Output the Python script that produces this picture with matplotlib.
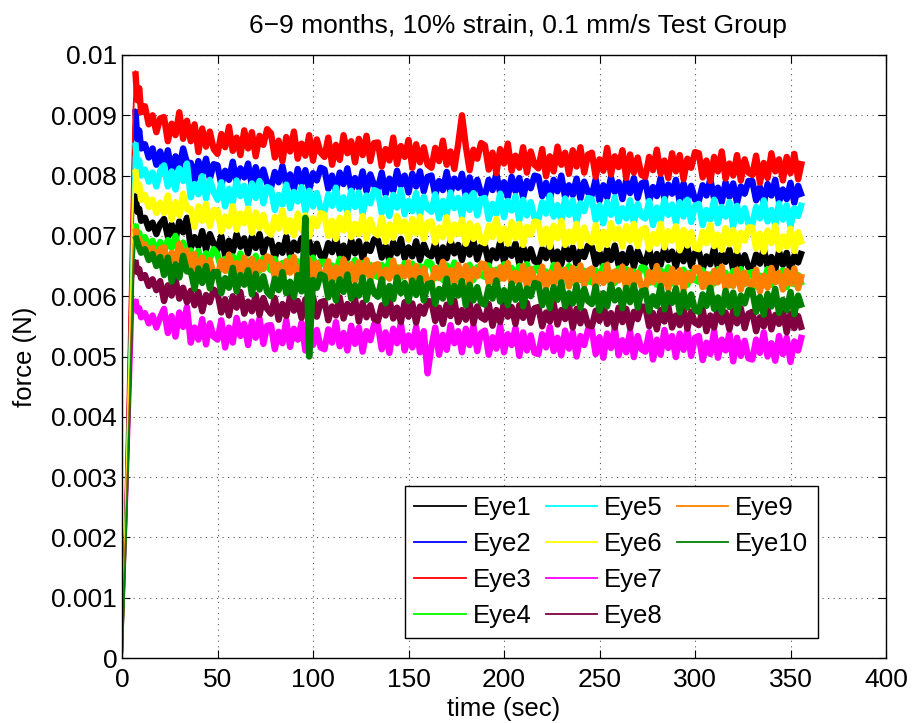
import numpy as np
import matplotlib
matplotlib.use("Agg")
import matplotlib.pyplot as plt
from matplotlib.lines import Line2D

plt.rcParams['font.family'] = ['Liberation Sans', 'DejaVu Sans']

# time samples (sec): loading ramp, then relaxation sampled every 2 s
t_early = [0, 1, 2, 3, 4, 5, 6, 7, 8, 9, 10, 12, 14, 16, 18, 20]
t_late = list(range(22, 357, 2))
time = np.array(t_early + t_late, dtype=float)

# force values in units of 1e-5 N
eye1 = [0,120,240,360,480,610,745,770,740,745,725,730,712,722,703,720,
        728,699,719,695,724,706,730,680,698,683,708,677,703,687,
        677,700,668,692,674,703,682,696,671,699,680,703,672,694,
        693,664,685,672,699,667,689,676,696,663,691,669,687,667,
        665,688,673,697,668,684,663,693,671,691,662,686,675,694,
        693,664,684,660,689,671,695,663,681,666,691,660,686,670,
        666,689,657,681,663,692,671,685,660,688,669,692,661,683,
        684,655,676,663,690,658,680,667,687,654,682,660,678,658,
        655,678,663,687,658,674,653,683,661,681,652,676,665,684,
        682,653,673,649,678,660,684,652,670,655,680,649,675,659,
        655,678,646,670,652,681,660,674,649,677,658,681,650,672,
        674,645,666,653,680,648,670,657,677,644,672,650,668,648,
        646,669,654,678,649,665,644,674,652,672,643,667,656,675]
eye2 = [0,140,280,420,570,720,880,910,860,875,845,852,830,845,818,840,
        816,842,806,832,812,845,821,821,793,824,803,828,795,819,
        817,785,808,793,823,788,812,797,820,783,814,790,810,787,
        780,806,789,816,784,802,778,811,787,809,777,804,792,813,
        810,778,800,773,805,786,812,776,796,780,807,774,802,784,
        779,805,769,795,775,808,784,800,772,803,782,807,774,798,
        800,768,791,776,806,771,795,780,803,766,797,773,793,770,
        767,793,776,803,771,789,765,798,774,796,764,791,779,800,
        798,766,788,761,793,774,800,764,784,768,795,762,790,772,
        768,794,758,784,764,797,773,789,761,792,771,796,763,787,
        790,758,781,766,796,761,785,770,793,756,787,763,783,760,
        758,784,767,794,762,780,756,789,765,787,755,782,770,791,
        791,759,781,754,786,767,793,757,777,761,788,755,783,765]
eye3 = [0,150,300,450,600,760,910,973,925,945,905,915,885,900,872,895,
        897,857,886,867,905,861,891,857,885,839,878,848,873,844,
        836,869,847,881,841,863,834,875,845,872,832,866,851,877,
        870,830,858,824,864,840,873,828,853,833,867,825,860,838,
        831,863,818,851,826,867,837,857,822,861,834,866,824,854,
        855,815,844,825,863,819,849,831,859,813,852,822,847,818,
        813,846,824,858,818,840,811,852,900,849,809,843,828,854,
        850,810,838,804,844,820,853,808,833,813,847,805,840,818,
        812,844,799,832,807,848,818,838,803,842,815,847,805,835,
        838,798,827,808,846,802,832,814,842,796,835,805,830,801,
        798,831,809,843,803,825,796,837,807,834,794,828,813,839,
        837,797,825,791,831,807,840,795,820,800,834,792,827,805,
        801,833,788,821,796,837,807,827,792,831,804,836,794,824]
eye4 = [0,110,220,335,450,570,695,720,700,705,690,698,680,692,672,690,
        673,693,680,700,676,689,672,676,658,675,651,671,662,678,
        669,645,662,642,666,651,671,644,659,647,667,642,663,650,
        643,662,635,655,640,664,646,658,637,661,645,664,639,657,
        657,633,651,639,662,636,654,643,660,632,655,637,652,635,
        632,652,639,659,635,648,631,655,637,654,630,650,641,657,
        654,630,647,627,651,636,656,629,644,632,652,627,648,635,
        632,651,624,644,629,653,635,647,626,650,634,653,628,646,
        647,623,641,629,652,626,644,633,650,622,645,627,642,625,
        623,643,630,650,626,639,622,646,628,645,621,641,632,648,
        646,622,639,619,643,628,648,621,636,624,644,619,640,627,
        624,643,616,636,621,645,627,639,618,642,626,645,620,638,
        640,616,634,622,645,619,637,626,643,615,638,620,635,618]
eye5 = [0,130,260,400,540,690,830,855,815,825,800,810,790,805,782,808,
        817,782,807,777,812,791,820,764,786,769,799,762,793,773,
        760,789,749,778,756,792,766,783,753,787,763,791,754,781,
        778,743,768,752,785,746,773,757,781,741,775,749,771,745,
        740,769,750,780,745,764,739,775,748,772,737,767,754,776,
        773,738,763,733,768,747,776,736,758,741,771,734,765,745,
        740,769,729,758,736,772,746,763,733,767,743,771,734,761,
        763,728,753,737,770,731,758,742,766,726,760,734,756,730,
        727,756,737,767,732,751,726,762,735,759,724,754,741,763,
        761,726,751,721,756,735,764,724,746,729,759,722,753,733,
        729,758,718,747,725,761,735,752,722,756,732,760,723,750,
        753,718,743,727,760,721,748,732,756,716,750,724,746,720,
        719,748,729,759,724,743,718,754,727,751,716,746,733,755]
eye6 = [0,125,250,380,510,650,790,810,775,785,760,768,748,760,738,755,
        738,767,727,756,734,770,744,745,715,749,725,753,716,743,
        742,707,732,716,749,710,737,721,745,705,739,713,735,709,
        702,731,712,742,707,726,701,737,710,734,699,729,716,738,
        735,700,725,695,730,709,738,698,720,703,733,696,727,707,
        701,730,690,719,697,733,707,724,694,728,704,732,695,722,
        724,689,714,698,731,692,719,703,727,687,721,695,717,691,
        688,717,698,728,693,712,687,723,696,720,685,715,702,724,
        722,687,712,682,717,696,725,685,707,690,720,683,714,694,
        689,718,678,707,685,721,695,712,682,716,692,720,683,710,
        713,678,703,687,720,681,708,692,716,676,710,684,706,680,
        678,707,688,718,683,702,677,713,686,710,675,705,692,714,
        714,679,704,674,709,688,717,677,699,682,712,675,706,686]
eye7 = [0,95,190,285,385,480,580,595,575,580,565,572,555,568,548,565,
        579,539,567,533,573,549,582,523,548,528,562,520,555,533,
        528,560,515,548,523,564,534,554,519,558,531,563,521,551,
        552,512,541,522,560,516,546,528,556,510,549,519,544,515,
        512,545,523,557,517,539,510,551,521,548,508,542,527,553,
        552,512,540,506,546,522,555,510,535,515,549,507,542,472,
        516,548,503,536,511,552,522,542,507,546,519,551,509,539,
        543,503,532,513,551,507,537,519,547,501,540,510,535,506,
        504,537,515,549,509,531,502,543,513,540,500,534,519,545,
        544,504,532,498,538,514,547,502,527,507,541,499,534,512,
        508,540,495,528,503,544,514,534,499,538,511,543,501,531,
        534,494,523,504,542,498,528,510,538,492,531,501,526,497,
        495,528,506,540,500,522,493,534,504,531,491,525,510,536]
eye8 = [0,100,200,305,410,520,630,660,640,645,630,635,617,628,610,625,
        592,618,601,628,596,614,590,609,585,607,575,602,590,611,
        605,573,595,568,600,581,607,571,591,575,602,569,597,579,
        571,597,561,587,567,600,576,592,564,595,574,599,566,590,
        592,560,583,568,598,563,587,572,595,558,589,565,585,562,
        559,585,568,595,563,581,557,590,566,588,556,583,571,592,
        591,559,581,554,586,567,593,557,577,561,588,555,583,565,
        561,587,551,577,557,590,566,582,554,585,564,589,556,580,
        582,550,573,558,588,553,577,562,585,548,579,555,575,552,
        550,576,559,586,554,572,548,581,557,579,547,574,562,583,
        582,550,572,545,577,558,584,548,568,552,579,546,574,556,
        552,578,542,568,548,581,557,573,545,576,555,580,547,571,
        574,542,565,550,580,545,569,554,577,540,571,547,567,544]
eye9 = [0,105,215,325,440,560,685,712,690,695,680,686,668,680,660,678,
        681,649,672,657,687,652,676,647,670,633,664,640,660,637,
        633,659,642,669,637,655,631,664,640,662,630,657,645,666,
        663,631,653,626,658,639,665,629,649,633,660,627,655,637,
        632,658,622,648,628,661,637,653,625,656,635,660,627,651,
        653,621,644,629,659,624,648,633,656,619,650,626,646,623,
        621,647,630,657,625,643,619,652,628,650,618,645,633,654,
        653,621,643,616,648,629,655,619,639,623,650,617,645,627,
        623,649,613,639,619,652,628,644,616,647,626,651,618,642,
        646,614,637,622,652,617,641,626,649,612,643,619,639,616,
        614,640,623,650,618,636,612,645,621,643,611,638,626,647,
        647,615,637,610,642,623,649,613,633,617,644,611,639,621,
        618,644,608,634,614,647,623,639,611,642,621,646,613,637]
eye10 = [0,90,190,300,410,530,650,700,690,680,672,678,660,670,650,665,
         635,664,624,653,631,667,641,642,612,646,622,650,613,640,
         640,605,630,614,647,608,635,619,643,603,637,611,633,607,
         600,629,610,640,605,624,599,635,608,730,500,627,614,636,
         633,598,623,593,628,607,636,596,618,601,631,594,625,605,
         599,628,588,617,595,631,605,622,592,626,602,630,593,620,
         622,587,612,596,629,590,617,601,625,585,619,593,615,589,
         586,615,596,626,591,610,585,621,594,618,583,613,600,622,
         620,585,610,580,615,594,623,583,605,588,618,581,612,592,
         587,616,576,605,583,619,593,610,580,614,590,618,581,608,
         610,575,600,584,617,578,605,589,613,573,607,581,603,577,
         574,603,584,614,579,598,573,609,582,606,571,601,588,610,
         609,574,599,569,604,583,612,572,594,577,607,570,601,581]

series = [eye1, eye2, eye3, eye4, eye5, eye6, eye7, eye8, eye9, eye10]
labels = ['Eye1', 'Eye2', 'Eye3', 'Eye4', 'Eye5', 'Eye6', 'Eye7', 'Eye8', 'Eye9', 'Eye10']
colors = ['#000000', '#0000ff', '#ff0000', '#00ff00', '#00ffff',
          '#ffff00', '#ff00ff', '#800040', '#ff8000', '#008000']

xticks = [0, 50, 100, 150, 200, 250, 300, 350, 400]
yticks = [0, 0.001, 0.002, 0.003, 0.004, 0.005, 0.006, 0.007, 0.008, 0.009, 0.01]
ytick_labels = ['0', '0.001', '0.002', '0.003', '0.004', '0.005', '0.006',
                '0.007', '0.008', '0.009', '0.01']

fig = plt.figure(figsize=(9.14, 7.23), dpi=100)
ax = fig.add_axes([122/914, 65/723, 764/914, 603/723])

n_rise = 8  # samples of the loading ramp
handles = []
for vals, lab, col in zip(series, labels, colors):
    y = np.array(vals) * 1e-5
    ax.plot(time[:n_rise], y[:n_rise], color=col, linewidth=1.3)
    ax.plot(time[n_rise - 1:], y[n_rise - 1:], color=col, linewidth=4.6,
            solid_joinstyle='round', solid_capstyle='butt')
    handles.append(Line2D([], [], color=col, linewidth=1.3, label=lab))

ax.set_xlim(0, 400)
ax.set_ylim(0, 0.01)
ax.set_xticks(xticks)
ax.set_xticklabels([str(v) for v in xticks])
ax.set_yticks(yticks)
ax.set_yticklabels(ytick_labels)
ax.tick_params(direction='in', top=True, right=True, length=6, width=0.8,
               labelsize=19)
ax.tick_params(axis='x', pad=7.5)
ax.tick_params(axis='y', pad=3.5)
ax.grid(True, linestyle=(0, (1, 4)), color='0.35', linewidth=0.8)
for s in ax.spines.values():
    s.set_linewidth(1.0)

ax.set_xlabel('time (sec)', fontsize=18.5, labelpad=3)
ax.set_ylabel('force (N)', fontsize=18.5, labelpad=10)
ax.set_title('6\u22129 months, 10% strain, 0.1 mm/s Test Group', fontsize=19,
             x=0.518, pad=16)

blank = Line2D([], [], linestyle='none', label=' ')
leg_handles = handles + [blank, blank]
leg = ax.legend(handles=leg_handles, labels=[h.get_label() for h in leg_handles],
                ncol=3, loc='lower left', bbox_to_anchor=(0.370, 0.033),
                borderaxespad=0, fontsize=18.5, frameon=True, fancybox=False,
                edgecolor='black', framealpha=1, handlelength=2.0,
                handletextpad=0.27, labelspacing=0.47, columnspacing=0.55,
                borderpad=0.38)
leg.get_frame().set_linewidth(1.0)

fig.savefig('out.png', dpi=100)
